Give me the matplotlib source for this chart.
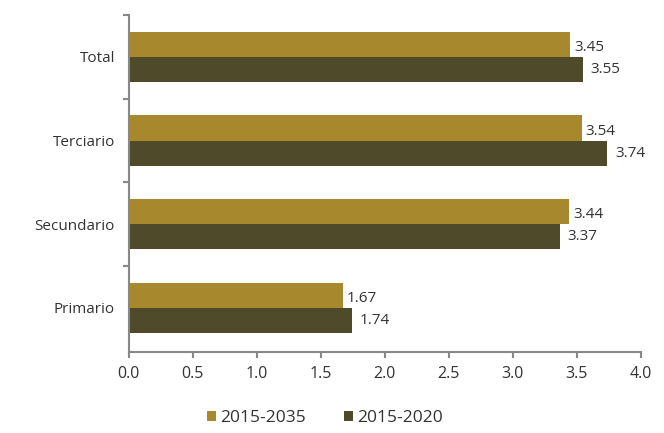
import matplotlib
matplotlib.use("Agg")
import matplotlib.pyplot as plt
import numpy as np

categories = ["Primario", "Secundario", "Terciario", "Total"]
s2035 = [1.67, 3.44, 3.54, 3.45]
s2020 = [1.74, 3.37, 3.74, 3.55]
labels = ["2015-2035", "2015-2020"]
xticks = [0.0, 0.5, 1.0, 1.5, 2.0, 2.5, 3.0, 3.5, 4.0]

gold = "#a8882c"
dark = "#4e4a2a"
txt = "#333333"

plt.rcParams['font.family'] = ['Open Sans', 'DejaVu Sans']

fig = plt.figure(figsize=(6.64, 4.33), dpi=100)
ax = fig.add_axes([0.194, 0.187, 0.771, 0.778])

y = np.arange(len(categories))
h = 0.3
b1 = ax.barh(y + h/2, s2035, height=h, color=gold, label=labels[0])
b2 = ax.barh(y - h/2, s2020, height=h, color=dark, label=labels[1])

for yy, v in zip(y + h/2, s2035):
    ax.text(v + 0.03, yy - 0.04, f"{v:.2f}", va="center", ha="left", fontsize=11, color=txt)
for yy, v in zip(y - h/2, s2020):
    ax.text(v + 0.06, yy + 0.0, f"{v:.2f}", va="center", ha="left", fontsize=11, color=txt)

ax.set_xlim(0, 4.0)
ax.set_ylim(-0.53, 3.5)
ax.set_xticks(xticks)
ax.set_xticklabels([f"{t:.1f}" for t in xticks], fontsize=11.5, color=txt)
ax.set_yticks(y)
ax.set_yticklabels(categories, fontsize=11, color=txt)
ax.tick_params(axis="y", length=0, pad=10)
ax.set_yticks([0.5, 1.5, 2.5, 3.5], minor=True)
ax.tick_params(axis="y", which="minor", length=4, color="#888888", width=1.5)
ax.tick_params(axis="x", length=4, color="#888888", width=1.5, pad=6)

for s in ["top", "right"]:
    ax.spines[s].set_visible(False)
for s in ["left", "bottom"]:
    ax.spines[s].set_color("#888888")
    ax.spines[s].set_linewidth(1.5)

leg = fig.legend(handles=[b1, b2], labels=labels, loc="center", bbox_to_anchor=(0.49, 0.035),
                 ncol=2, frameon=False, fontsize=12.5, handlelength=0.5, handleheight=0.5,
                 handletextpad=0.25, columnspacing=2.2)
for t in leg.get_texts():
    t.set_color(txt)

fig.savefig("out.png", dpi=100)
